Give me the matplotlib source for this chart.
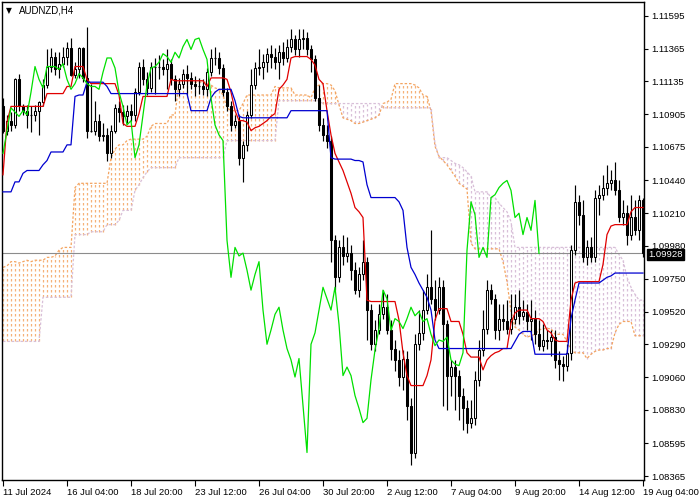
import matplotlib
matplotlib.use("Agg")
import matplotlib.pyplot as plt
from matplotlib.patches import Rectangle

symbol_label = "AUDNZD,H4"

opens = [
    1.1096, 1.1079, 1.1086, 1.1083, 1.1115, 1.1096, 1.1093, 1.1090, 1.1090, 1.1093,
    1.1099, 1.1111, 1.1124, 1.1131, 1.1122, 1.1126, 1.1131, 1.1137, 1.1118, 1.1122,
    1.1137, 1.1116, 1.1079, 1.1079, 1.1086, 1.1075, 1.1076, 1.1063, 1.1079, 1.1095,
    1.1092, 1.1089, 1.1093, 1.1090, 1.1106, 1.1124, 1.1115, 1.1109, 1.1124, 1.1124,
    1.1124, 1.1122, 1.1126, 1.1115, 1.1108, 1.1112, 1.1119, 1.1116, 1.1112, 1.1110,
    1.1110, 1.1108, 1.1120, 1.1130, 1.1130, 1.1123, 1.1106, 1.1096, 1.1083, 1.1086,
    1.1060, 1.1069, 1.1090, 1.1111, 1.1123, 1.1124, 1.1127, 1.1133, 1.1131, 1.1127,
    1.1134, 1.1130, 1.1138, 1.1143, 1.1136, 1.1143, 1.1144, 1.1136, 1.1129, 1.1102,
    1.1083, 1.1076, 1.1072, 1.1002, 1.0976, 1.0997, 1.0991, 1.0993, 1.0981, 1.0967,
    1.0978, 1.0987, 1.0953, 1.0929, 1.0939, 1.0950, 1.0955, 1.0939, 1.0926, 1.0918,
    1.0906, 1.0919, 1.0886, 1.0853, 1.0929, 1.0937, 1.0953, 1.0969, 1.0961, 1.0953,
    1.0969, 1.0943, 1.0907, 1.0913, 1.0907, 1.0893, 1.0884, 1.0874, 1.0877, 1.0904,
    1.0925, 1.0940, 1.0967, 1.0961, 1.0939, 1.0947, 1.0945, 1.0940, 1.0947, 1.0955,
    1.0949, 1.0952, 1.0945, 1.0947, 1.0936, 1.0928, 1.0932, 1.0931, 1.0934, 1.0918,
    1.0915, 1.0914, 1.0923, 1.0995, 1.1029, 1.1020, 1.0990, 1.0997, 1.0990, 1.1032,
    1.1034, 1.1039, 1.1042, 1.1044, 1.1037, 1.1018, 1.1021, 1.1006, 1.1018, 1.1009,
    1.1030,
]

highs = [
    1.1102, 1.1090, 1.1092, 1.1116, 1.1119, 1.1098, 1.1097, 1.1096, 1.1097, 1.1100,
    1.1115, 1.1136, 1.1137, 1.1134, 1.1134, 1.1138, 1.1141, 1.1144, 1.1127, 1.1138,
    1.1138, 1.1152, 1.1112, 1.1100, 1.1091, 1.1084, 1.1081, 1.1083, 1.1098, 1.1100,
    1.1097, 1.1097, 1.1098, 1.1109, 1.1127, 1.1129, 1.1120, 1.1127, 1.1130, 1.1132,
    1.1129, 1.1136, 1.1129, 1.1118, 1.1116, 1.1122, 1.1125, 1.1120, 1.1117, 1.1116,
    1.1115, 1.1123, 1.1136, 1.1138, 1.1134, 1.1126, 1.1109, 1.1100, 1.1090, 1.1090,
    1.1072, 1.1093, 1.1122, 1.1127, 1.1136, 1.1133, 1.1137, 1.1139, 1.1137, 1.1139,
    1.1141, 1.1143, 1.1150, 1.1146, 1.1150, 1.1150, 1.1148, 1.1139, 1.1132, 1.1111,
    1.1088, 1.1083, 1.1075, 1.1006, 1.1002, 1.1006, 1.1004, 1.0999, 1.0987, 1.0983,
    1.1002, 1.0990, 1.0957, 1.0946, 1.0957, 1.0967, 1.0964, 1.0946, 1.0932, 1.0925,
    1.0925, 1.0924, 1.0891, 1.0936, 1.0953, 1.0967, 1.0978, 1.1009, 1.0974, 1.0976,
    1.0974, 1.0946, 1.0918, 1.0918, 1.0911, 1.0898, 1.0890, 1.0890, 1.0910, 1.0932,
    1.0953, 1.0974, 1.0971, 1.0964, 1.0957, 1.0957, 1.0960, 1.0964, 1.0964, 1.0967,
    1.0960, 1.0957, 1.0960, 1.0953, 1.0946, 1.0943, 1.0939, 1.0939, 1.0939, 1.0924,
    1.0921, 1.0929, 1.0999, 1.1041, 1.1034, 1.1030, 1.1002, 1.1004, 1.1037, 1.1041,
    1.1048, 1.1055, 1.1051, 1.1057, 1.1044, 1.1030, 1.1027, 1.1034, 1.1030, 1.1034,
    1.1032,
]

lows = [
    1.1077, 1.1076, 1.1079, 1.1081, 1.1093, 1.1090, 1.1081, 1.1078, 1.1086, 1.1076,
    1.1096, 1.1109, 1.1120, 1.1118, 1.1116, 1.1124, 1.1125, 1.1117, 1.1116, 1.1116,
    1.1113, 1.1074, 1.1078, 1.1076, 1.1072, 1.1072, 1.1058, 1.1060, 1.1077, 1.1085,
    1.1083, 1.1084, 1.1086, 1.1086, 1.1104, 1.1111, 1.1104, 1.1106, 1.1105, 1.1115,
    1.1118, 1.1108, 1.1111, 1.1100, 1.1103, 1.1109, 1.1104, 1.1108, 1.1103, 1.1105,
    1.1104, 1.1103, 1.1117, 1.1125, 1.1119, 1.1103, 1.1093, 1.1079, 1.1081, 1.1055,
    1.1043, 1.1065, 1.1088, 1.1108, 1.1118, 1.1115, 1.1120, 1.1123, 1.1122, 1.1115,
    1.1125, 1.1127, 1.1134, 1.1132, 1.1131, 1.1136, 1.1132, 1.1120, 1.1100, 1.1079,
    1.1072, 1.1067, 1.0987, 1.0967, 1.0973, 1.0985, 1.0987, 1.0974, 1.0964, 1.0962,
    1.0974, 1.0932, 1.0925, 1.0924, 1.0936, 1.0947, 1.0936, 1.0918, 1.0910, 1.0900,
    1.0897, 1.0876, 1.0844, 1.0849, 1.0925, 1.0932, 1.0950, 1.0957, 1.0946, 1.0950,
    1.0886, 1.0883, 1.0893, 1.0883, 1.0876, 1.0869, 1.0867, 1.0870, 1.0872, 1.0900,
    1.0921, 1.0936, 1.0957, 1.0933, 1.0932, 1.0939, 1.0936, 1.0936, 1.0943, 1.0943,
    1.0946, 1.0939, 1.0932, 1.0929, 1.0925, 1.0924, 1.0926, 1.0921, 1.0912, 1.0904,
    1.0903, 1.0910, 1.0918, 1.0992, 1.1013, 1.0987, 1.0985, 1.0987, 1.0987, 1.1020,
    1.1030, 1.1034, 1.1037, 1.1034, 1.1015, 1.1013, 1.0999, 1.1002, 1.1006, 1.1002,
    1.0990,
]

closes = [
    1.1079, 1.1086, 1.1083, 1.1115, 1.1096, 1.1093, 1.1090, 1.1090, 1.1093, 1.1099,
    1.1111, 1.1124, 1.1131, 1.1122, 1.1126, 1.1131, 1.1137, 1.1118, 1.1122, 1.1137,
    1.1116, 1.1079, 1.1079, 1.1086, 1.1075, 1.1076, 1.1063, 1.1079, 1.1095, 1.1092,
    1.1089, 1.1093, 1.1090, 1.1106, 1.1124, 1.1115, 1.1109, 1.1124, 1.1124, 1.1124,
    1.1122, 1.1126, 1.1115, 1.1108, 1.1112, 1.1119, 1.1116, 1.1112, 1.1110, 1.1110,
    1.1108, 1.1120, 1.1130, 1.1130, 1.1123, 1.1106, 1.1096, 1.1083, 1.1086, 1.1060,
    1.1069, 1.1090, 1.1111, 1.1123, 1.1124, 1.1127, 1.1133, 1.1131, 1.1127, 1.1134,
    1.1130, 1.1138, 1.1143, 1.1136, 1.1143, 1.1144, 1.1136, 1.1129, 1.1102, 1.1083,
    1.1076, 1.1072, 1.1002, 1.0976, 1.0997, 1.0991, 1.0993, 1.0981, 1.0967, 1.0978,
    1.0987, 1.0953, 1.0929, 1.0939, 1.0950, 1.0955, 1.0939, 1.0926, 1.0918, 1.0906,
    1.0919, 1.0886, 1.0853, 1.0929, 1.0937, 1.0953, 1.0969, 1.0961, 1.0953, 1.0969,
    1.0943, 1.0907, 1.0913, 1.0907, 1.0893, 1.0884, 1.0874, 1.0877, 1.0904, 1.0925,
    1.0940, 1.0967, 1.0961, 1.0939, 1.0947, 1.0945, 1.0940, 1.0947, 1.0955, 1.0949,
    1.0952, 1.0945, 1.0947, 1.0936, 1.0928, 1.0932, 1.0931, 1.0934, 1.0918, 1.0915,
    1.0914, 1.0923, 1.0995, 1.1029, 1.1020, 1.0990, 1.0997, 1.0990, 1.1032, 1.1034,
    1.1039, 1.1042, 1.1044, 1.1037, 1.1018, 1.1021, 1.1006, 1.1018, 1.1009, 1.1030,
    1.09928,
]

tenkan = [
    1.1048, 1.1085, 1.1096, 1.1096, 1.1096, 1.1096, 1.1096, 1.1096, 1.1096, 1.1096,
    1.1096, 1.1105, 1.1105, 1.1105, 1.1105, 1.1105, 1.1110, 1.1110, 1.1124, 1.1124,
    1.1124, 1.1115, 1.1112, 1.1112, 1.1112, 1.1112, 1.1112, 1.1112, 1.1112, 1.1104,
    1.1084, 1.1082, 1.1082, 1.1082, 1.1091, 1.1103, 1.1103, 1.1103, 1.1103, 1.1103,
    1.1103, 1.1103, 1.1115, 1.1114, 1.1114, 1.1114, 1.1114, 1.1114, 1.1114, 1.1114,
    1.1114, 1.1110, 1.1116, 1.1116, 1.1116, 1.1116, 1.1115, 1.1106, 1.1093, 1.1086,
    1.1086, 1.1085, 1.1079, 1.1081, 1.1082, 1.1084, 1.1086, 1.1089, 1.1091, 1.1108,
    1.1111, 1.1115, 1.1130, 1.1131, 1.1131, 1.1131, 1.1131, 1.1129, 1.1125, 1.1115,
    1.1112, 1.1093, 1.1076, 1.1063, 1.1057, 1.1051, 1.1043, 1.1035, 1.1025, 1.1022,
    1.1018, 1.0960, 1.0959, 1.0959, 1.0959, 1.0959, 1.0959, 1.0959, 1.0959, 1.0946,
    1.0923, 1.0907, 1.0900, 1.0900, 1.0900, 1.0900, 1.0907, 1.0918, 1.0946, 1.0954,
    1.0954, 1.0954, 1.0945, 1.0945, 1.0945, 1.0936, 1.0923, 1.0920, 1.0920, 1.0920,
    1.0911, 1.0918, 1.0921, 1.0923, 1.0924, 1.0926, 1.0926, 1.0944, 1.0951, 1.0953,
    1.0953, 1.0953, 1.0947, 1.0947, 1.0947, 1.0945, 1.0939, 1.0937, 1.0932, 1.0931,
    1.0931, 1.0931, 1.0960, 1.0972, 1.0973, 1.0973, 1.0973, 1.0973, 1.0973, 1.0973,
    1.0985, 1.1006, 1.1012, 1.1013, 1.1013, 1.1013, 1.1013, 1.1022, 1.1025, 1.1025,
    1.1025,
]

kijun = [
    1.1036, 1.1036, 1.1036, 1.1043, 1.1043, 1.1049, 1.1051, 1.1051, 1.1051, 1.1051,
    1.1055, 1.1058, 1.1064, 1.1064, 1.1064, 1.1064, 1.1069, 1.1069, 1.1103, 1.1104,
    1.1104, 1.1113, 1.1113, 1.1113, 1.1113, 1.1113, 1.1110, 1.1105, 1.1105, 1.1105,
    1.1105, 1.1105, 1.1105, 1.1105, 1.1105, 1.1105, 1.1105, 1.1105, 1.1105, 1.1105,
    1.1105, 1.1105, 1.1105, 1.1105, 1.1105, 1.1105, 1.1105, 1.1093, 1.1093, 1.1093,
    1.1093, 1.1093, 1.1102, 1.1106, 1.1108, 1.1108, 1.1108, 1.1108, 1.1100, 1.1089,
    1.1088, 1.1088, 1.1088, 1.1088, 1.1088, 1.1088, 1.1088, 1.1088, 1.1088, 1.1088,
    1.1088, 1.1088, 1.1093, 1.1093, 1.1093, 1.1093, 1.1093, 1.1093, 1.1093, 1.1093,
    1.1093, 1.1093, 1.1060, 1.1059, 1.1059, 1.1059, 1.1059, 1.1059, 1.1058, 1.1058,
    1.1057, 1.1041, 1.1032, 1.1032, 1.1032, 1.1032, 1.1032, 1.1032, 1.1032, 1.1029,
    1.1023, 1.0997, 1.0983, 1.0978, 1.0972, 1.0967, 1.0962, 1.0953, 1.0932, 1.0926,
    1.0926, 1.0926, 1.0926, 1.0926, 1.0926, 1.0926, 1.0926, 1.0926, 1.0926, 1.0926,
    1.0926, 1.0926, 1.0926, 1.0926, 1.0926, 1.0926, 1.0926, 1.0926, 1.0931, 1.0936,
    1.0938, 1.0938, 1.0938, 1.0922, 1.0922, 1.0922, 1.0922, 1.0922, 1.0922, 1.0922,
    1.0922, 1.0922, 1.0947, 1.0960, 1.0972, 1.0972, 1.0972, 1.0972, 1.0972, 1.0972,
    1.0974, 1.0976, 1.0977, 1.0979, 1.0979, 1.0979, 1.0979, 1.0979, 1.0979, 1.0979,
    1.0979,
]

span_a = [
    1.0983, 1.0984, 1.0987, 1.0987, 1.0986, 1.0987, 1.0988, 1.0987, 1.0988, 1.0988,
    1.0988, 1.0990, 1.0990, 1.0991, 1.0995, 1.0997, 1.0997, 1.0997, 1.1039, 1.1042,
    1.1042, 1.1042, 1.1042, 1.1042, 1.1042, 1.1042, 1.1042, 1.1060, 1.1066, 1.1069,
    1.1069, 1.1072, 1.1073, 1.1073, 1.1073, 1.1073, 1.1075, 1.1082, 1.1084, 1.1084,
    1.1084, 1.1084, 1.1090, 1.1090, 1.1113, 1.1114, 1.1114, 1.1114, 1.1113, 1.1113,
    1.1113, 1.1113, 1.1111, 1.1109, 1.1108, 1.1104, 1.1095, 1.1093, 1.1093, 1.1093,
    1.1098, 1.1104, 1.1104, 1.1104, 1.1104, 1.1104, 1.1104, 1.1104, 1.1110, 1.1109,
    1.1109, 1.1109, 1.1109, 1.1104, 1.1104, 1.1104, 1.1104, 1.1102, 1.1109, 1.1111,
    1.1112, 1.1112, 1.1111, 1.1107, 1.1097, 1.1088, 1.1087, 1.1086, 1.1084, 1.1084,
    1.1085, 1.1086, 1.1087, 1.1088, 1.1090, 1.1098, 1.1099, 1.1101, 1.1112, 1.1112,
    1.1112, 1.1112, 1.1112, 1.1111, 1.1109, 1.1104, 1.1103, 1.1093, 1.1068, 1.1061,
    1.1058, 1.1055, 1.1051, 1.1047, 1.1042, 1.1040, 1.1038, 1.1000, 1.0996, 1.0996,
    1.0996, 1.0996, 1.0996, 1.0996, 1.0996, 1.0987, 1.0973, 1.0952, 1.0941, 1.0939,
    1.0936, 1.0934, 1.0935, 1.0936, 1.0939, 1.0940, 1.0940, 1.0940, 1.0936, 1.0936,
    1.0936, 1.0931, 1.0925, 1.0923, 1.0923, 1.0923, 1.0919, 1.0922, 1.0924, 1.0925,
    1.0925, 1.0926, 1.0926, 1.0937, 1.0943, 1.0945, 1.0945, 1.0945, 1.0935, 1.0935,
    1.0935,
]

span_b = [
    1.0931, 1.0931, 1.0931, 1.0931, 1.0931, 1.0931, 1.0931, 1.0931, 1.0931, 1.0931,
    1.0962, 1.0962, 1.0962, 1.0962, 1.0962, 1.0962, 1.0962, 1.0962, 1.1006, 1.1006,
    1.1006, 1.1006, 1.1008, 1.1008, 1.1008, 1.1008, 1.1013, 1.1013, 1.1013, 1.1016,
    1.1023, 1.1023, 1.1023, 1.1037, 1.1041, 1.1046, 1.1050, 1.1053, 1.1053, 1.1053,
    1.1053, 1.1053, 1.1053, 1.1053, 1.1060, 1.1060, 1.1060, 1.1060, 1.1060, 1.1060,
    1.1060, 1.1060, 1.1060, 1.1060, 1.1060, 1.1060, 1.1072, 1.1072, 1.1072, 1.1072,
    1.1072, 1.1072, 1.1072, 1.1072, 1.1072, 1.1072, 1.1072, 1.1072, 1.1072, 1.1100,
    1.1100, 1.1100, 1.1100, 1.1100, 1.1100, 1.1100, 1.1100, 1.1100, 1.1100, 1.1100,
    1.1098, 1.1098, 1.1098, 1.1098, 1.1098, 1.1098, 1.1098, 1.1098, 1.1098, 1.1098,
    1.1098, 1.1098, 1.1098, 1.1098, 1.1098, 1.1095, 1.1095, 1.1095, 1.1095, 1.1095,
    1.1095, 1.1095, 1.1095, 1.1095, 1.1095, 1.1095, 1.1095, 1.1095, 1.1070, 1.1060,
    1.1060, 1.1060, 1.1058, 1.1056, 1.1055, 1.1053, 1.1050, 1.1047, 1.1036, 1.1036,
    1.1036, 1.1036, 1.1032, 1.1032, 1.1028, 1.1025, 1.1022, 1.1015, 1.0997, 1.0997,
    1.0997, 1.0997, 1.0997, 1.0997, 1.0997, 1.0997, 1.0997, 1.0997, 1.0997, 1.0997,
    1.0997, 1.0997, 1.0997, 1.0997, 1.0997, 1.0997, 1.0997, 1.0997, 1.0997, 1.0997,
    1.0997, 1.0997, 1.0997, 1.0997, 1.0992, 1.0988, 1.0976, 1.0969, 1.0964, 1.0960,
    1.0960,
]

chikou_shift = 26
current_price = 1.09928

x_tick_labels = ["11 Jul 2024", "16 Jul 04:00", "18 Jul 20:00", "23 Jul 12:00",
                 "26 Jul 04:00", "30 Jul 20:00", "2 Aug 12:00", "7 Aug 04:00",
                 "9 Aug 20:00", "14 Aug 12:00", "19 Aug 04:00"]
x_tick_step = 16
y_ticks = [1.11595, 1.11365, 1.11135, 1.10905, 1.10675, 1.10440, 1.10210, 1.09980,
           1.09750, 1.09520, 1.09290, 1.09060, 1.08830, 1.08595, 1.08365]
y_min, y_max = 1.08337, 1.11693

n = len(closes)
for arr in (opens, highs, lows, tenkan, kijun, span_a, span_b):
    assert len(arr) == n, len(arr)

plt.rcParams['font.family'] = ['Liberation Sans', 'DejaVu Sans']

fig = plt.figure(figsize=(7, 5), dpi=100)
ax = fig.add_axes([2 / 700, 20 / 500, 642 / 700, 478 / 500])
ax.set_facecolor('white')

xs = list(range(n))
UP_KUMO = '#f4a460'
DOWN_KUMO = '#d8bfd8'
dot_style = [(0, (2, 2))]

# Kumo (cloud): dotted histogram between span A and span B
up_x, up_lo, up_hi, dn_x, dn_lo, dn_hi = [], [], [], [], [], []
for i in xs:
    a, b = span_a[i], span_b[i]
    if a >= b:
        up_x.append(i); up_lo.append(b); up_hi.append(a)
    else:
        dn_x.append(i); dn_lo.append(a); dn_hi.append(b)
ax.vlines(up_x, up_lo, up_hi, colors=UP_KUMO, linewidth=0.9,
          linestyles=dot_style, alpha=0.85, zorder=1)
ax.vlines(dn_x, dn_lo, dn_hi, colors=DOWN_KUMO, linewidth=0.9,
          linestyles=dot_style, zorder=1)
ax.plot(xs, span_a, color=UP_KUMO, lw=0.9, ls=(0, (2, 1.5)), zorder=1.2)
ax.plot(xs, span_b, color=DOWN_KUMO, lw=0.9, ls=(0, (2, 1.5)), zorder=1.2)

# current price line
ax.axhline(current_price, color='#8c8c8c', lw=0.8, zorder=1.5)

# candles
w = 0.55
for i in xs:
    o, h, l, c = opens[i], highs[i], lows[i], closes[i]
    ax.vlines(i, min(l, o, c), max(h, o, c), colors='black', linewidth=0.85, zorder=3)
    if abs(c - o) < 1e-6:
        ax.hlines(c, i - w / 2, i + w / 2, colors='black', linewidth=0.85, zorder=3.5)
    else:
        fc = 'white' if c > o else 'black'
        ax.add_patch(Rectangle((i - w / 2, min(o, c)), w, abs(c - o),
                               facecolor=fc, edgecolor='black', linewidth=0.75,
                               zorder=3.5))

# Ichimoku lines
ax.plot(xs, tenkan, color='#e00000', lw=0.9, zorder=4)
ax.plot(xs, kijun, color='#0000d0', lw=0.9, zorder=4)
ax.plot(xs[:n - chikou_shift], closes[chikou_shift:], color='#00e000', lw=0.9, zorder=4)

ax.set_xlim(-0.25, n - 0.75)
ax.set_ylim(y_min, y_max)

for sp in ax.spines.values():
    sp.set_color('black')
    sp.set_linewidth(1.0)

ax.yaxis.tick_right()
ax.set_yticks(y_ticks)
ax.set_yticklabels([f"{v:.5f}" for v in y_ticks])
ax.tick_params(axis='y', direction='out', length=3, width=0.8, pad=2,
               labelsize=6.8, colors='black')

tick_pos = [k * x_tick_step for k in range(len(x_tick_labels))]
ax.set_xticks(tick_pos)
ax.set_xticklabels(x_tick_labels)
ax.tick_params(axis='x', direction='out', length=4, width=0.8, pad=1.5,
               labelsize=6.8, colors='black')
for lab in ax.get_xticklabels():
    lab.set_horizontalalignment('left')

# current price box on the axis
ax.annotate(f"{current_price:.5f}", xy=(1, current_price),
            xycoords=('axes fraction', 'data'), xytext=(3, -1),
            textcoords='offset points', ha='left', va='center', fontsize=6.8,
            color='white', zorder=10, annotation_clip=False,
            bbox=dict(boxstyle='square,pad=0.12', fc='black', ec='black'))

# symbol label
ax.text(0.006, 0.982, "\u25BC", transform=ax.transAxes, fontsize=5.5,
        family='DejaVu Sans', ha='left', va='center', color='black', zorder=10)
ax.text(0.027, 0.982, symbol_label, transform=ax.transAxes, fontsize=7,
        ha='left', va='center', color='black', zorder=10)

fig.savefig('out.png', dpi=100, facecolor='white')
